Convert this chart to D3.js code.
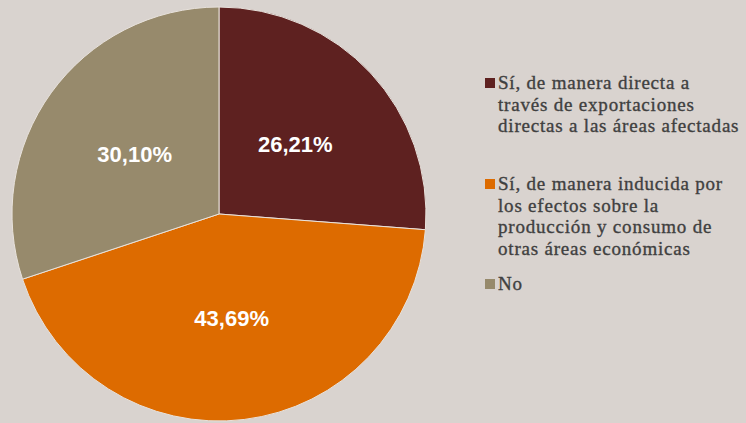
<!DOCTYPE html>
<html>
<head>
<meta charset="utf-8">
<script src="https://cdn.jsdelivr.net/npm/d3@7"></script>
<style>
  html, body { margin: 0; padding: 0; background: #d9d3cf; }
  svg { display: block; }
</style>
</head>
<body>
<div id="chart"></div>
<script>
// datos del gráfico
var categories = [
  ["Sí, de manera directa a", "través de exportaciones", "directas a las áreas afectadas"],
  ["Sí, de manera inducida por", "los efectos sobre la", "producción y consumo de", "otras áreas económicas"],
  ["No"]
];
var values = [26.21, 43.69, 30.10];
var labels = ["26,21%", "43,69%", "30,10%"];
var colors = ["#5e2120", "#dd6b00", "#978a6c"];

var width = 746, height = 423;
var cx = 219, cy = 214, radius = 207;

var svg = d3.select("#chart").append("svg")
    .attr("width", width)
    .attr("height", height);

var pie = d3.pie().sort(null).value(function(d){ return d; });
var arc = d3.arc().innerRadius(0).outerRadius(radius);
var labelArc = d3.arc().innerRadius(104).outerRadius(104);

var g = svg.append("g").attr("transform", "translate(" + cx + "," + cy + ")");

var arcs = pie(values);

g.selectAll("path")
    .data(arcs)
    .enter()
    .append("path")
    .attr("d", arc)
    .attr("fill", function(d, i){ return colors[i]; })
    .attr("stroke", "#e8e2dc")
    .attr("stroke-width", 1);

g.selectAll("text")
    .data(arcs)
    .enter()
    .append("text")
    .attr("transform", function(d){ return "translate(" + labelArc.centroid(d) + ")"; })
    .attr("text-anchor", "middle")
    .attr("dy", "0.38em")
    .attr("fill", "#ffffff")
    .attr("font-family", "Liberation Sans, Arial, sans-serif")
    .attr("font-weight", "bold")
    .attr("font-size", "22px")
    .text(function(d, i){ return labels[i]; });

// leyenda
var legendY = [89, 190, 290];
var lineH = 21.5;
var legend = svg.append("g");

categories.forEach(function(lines, i){
  legend.append("rect")
      .attr("x", 485)
      .attr("y", legendY[i] - 11)
      .attr("width", 10)
      .attr("height", 10)
      .attr("fill", colors[i]);
  lines.forEach(function(l, j){
    legend.append("text")
        .attr("x", 498)
        .attr("y", legendY[i] + j * lineH)
        .attr("fill", "#404040")
        .attr("stroke", "#404040")
        .attr("stroke-width", 0.35)
        .attr("letter-spacing", "0.8px")
        .attr("font-family", "Liberation Serif, Times New Roman, serif")
        .attr("font-size", "19px")
        .text(l);
  });
});
</script>
</body>
</html>
